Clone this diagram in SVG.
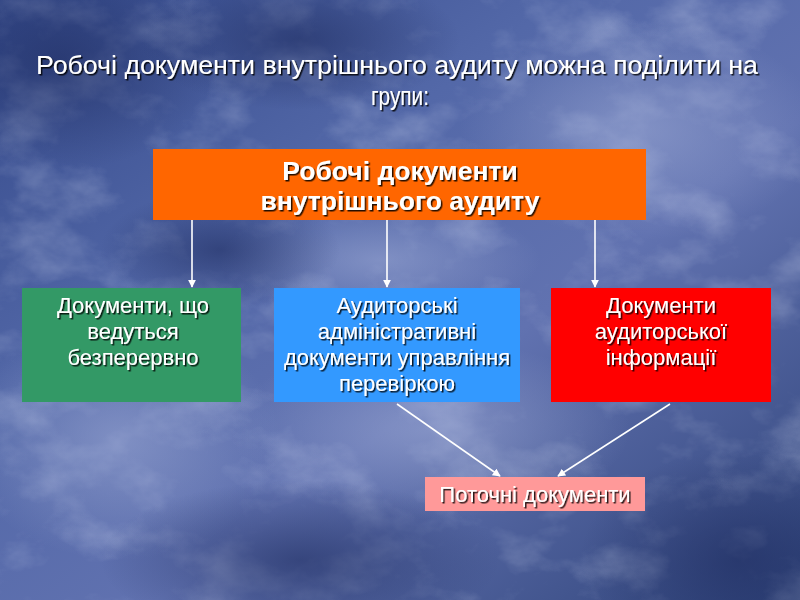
<svg xmlns="http://www.w3.org/2000/svg" width="800" height="600" viewBox="0 0 800 600">
<defs>
<linearGradient id="bg" x1="0" y1="0" x2="1" y2="1">
<stop offset="0" stop-color="#34498a"/>
<stop offset="0.35" stop-color="#5368a8"/>
<stop offset="0.6" stop-color="#6172b0"/>
<stop offset="1" stop-color="#30447a"/>
</linearGradient>
<radialGradient id="lite1" cx="0.5" cy="0.5" r="0.5">
<stop offset="0" stop-color="#a8b4dc" stop-opacity="0.5"/>
<stop offset="1" stop-color="#a8b4dc" stop-opacity="0"/>
</radialGradient>
<radialGradient id="dark1" cx="0.5" cy="0.5" r="0.5">
<stop offset="0" stop-color="#1e2c60" stop-opacity="0.6"/>
<stop offset="1" stop-color="#1e2c60" stop-opacity="0"/>
</radialGradient>
<filter id="marble" x="0" y="0" width="100%" height="100%">
<feTurbulence type="fractalNoise" baseFrequency="0.012 0.018" numOctaves="5" seed="7"/>
<feColorMatrix type="matrix" values="0 0 0 0 0.75  0 0 0 0 0.8  0 0 0 0 0.95  1.6 0 0 0 -0.75"/>
</filter>
<filter id="sh" x="-10%" y="-20%" width="120%" height="140%">
<feDropShadow dx="1.5" dy="1.5" stdDeviation="0.3" flood-color="#000" flood-opacity="0.85"/>
</filter>
<marker id="ah" viewBox="0 0 10 10" refX="9" refY="5" markerWidth="8" markerHeight="8" markerUnits="userSpaceOnUse" orient="auto">
<path d="M0,0 L10,5 L0,10 z" fill="#ffffff"/>
</marker>
<style>
.t{font-family:"Liberation Sans",Arial,sans-serif;fill:#ffffff;text-anchor:middle;filter:url(#sh)}
.b{font-size:22px}
.h{font-size:26.5px;font-weight:bold}
.c{stroke:#ffffff;stroke-width:1.6;fill:none;marker-end:url(#ah)}
</style>
</defs>
<rect width="800" height="600" fill="url(#bg)"/>
<rect width="800" height="600" filter="url(#marble)" opacity="0.45"/>
<ellipse cx="120" cy="440" rx="160" ry="120" fill="url(#lite1)"/>
<ellipse cx="640" cy="130" rx="180" ry="110" fill="url(#lite1)"/>
<ellipse cx="430" cy="430" rx="200" ry="90" fill="url(#lite1)"/>
<ellipse cx="380" cy="260" rx="160" ry="60" fill="url(#lite1)"/>
<ellipse cx="60" cy="60" rx="160" ry="110" fill="url(#dark1)"/>
<ellipse cx="300" cy="40" rx="160" ry="70" fill="url(#dark1)"/>
<ellipse cx="740" cy="560" rx="160" ry="110" fill="url(#dark1)"/>
<ellipse cx="300" cy="560" rx="200" ry="80" fill="url(#dark1)"/>
<ellipse cx="220" cy="250" rx="120" ry="60" fill="url(#dark1)"/>

<g id="title">
<text class="t" x="397" y="74" font-size="25" textLength="722" lengthAdjust="spacingAndGlyphs">Робочі документи внутрішнього аудиту можна поділити на</text>
<text class="t" x="400" y="105" font-size="25" textLength="58" lengthAdjust="spacingAndGlyphs">групи:</text>
</g>

<g id="connectors">
<line class="c" x1="192" y1="220" x2="192" y2="287"/>
<line class="c" x1="387" y1="220" x2="387" y2="287"/>
<line class="c" x1="595" y1="220" x2="595" y2="287"/>
<line class="c" x1="397" y1="404" x2="500" y2="476"/>
<line class="c" x1="670" y1="404" x2="558" y2="476"/>
</g>

<g id="root">
<rect x="153" y="149" width="493" height="71" fill="#ff6600"/>
<text class="t h" x="400" y="180">Робочі документи</text>
<text class="t h" x="400" y="210">внутрішнього аудиту</text>
</g>

<g id="green">
<rect x="22" y="288" width="219" height="114" fill="#339966"/>
<text class="t b" x="133" y="313">Документи, що</text>
<text class="t b" x="133" y="339">ведуться</text>
<text class="t b" x="133" y="365">безперервно</text>
</g>

<g id="blue">
<rect x="274" y="288" width="246" height="114" fill="#3399ff"/>
<text class="t b" x="397" y="313">Аудиторські</text>
<text class="t b" x="397" y="339">адміністративні</text>
<text class="t b" x="397" y="365">документи управління</text>
<text class="t b" x="397" y="391">перевіркою</text>
</g>

<g id="red">
<rect x="551" y="288" width="220" height="114" fill="#ff0000"/>
<text class="t b" x="661" y="313">Документи</text>
<text class="t b" x="661" y="339">аудиторської</text>
<text class="t b" x="661" y="365">інформації</text>
</g>

<g id="current">
<rect x="425" y="477" width="220" height="34" fill="#ff9999"/>
<text class="t b" x="535" y="502">Поточні документи</text>
</g>
</svg>
